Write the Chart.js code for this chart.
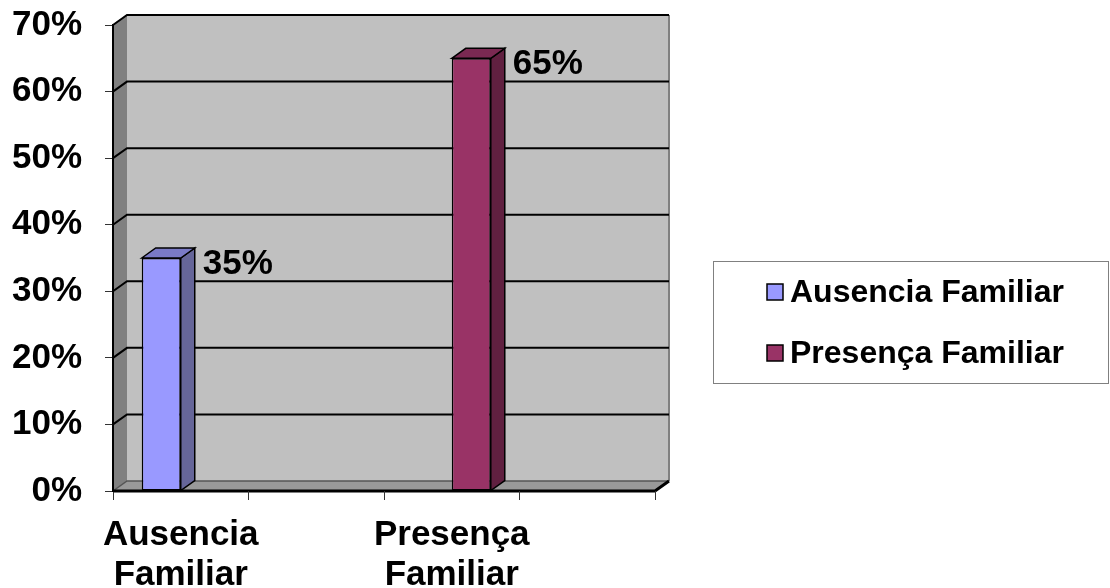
<!DOCTYPE html>
<html>
<head>
<meta charset="utf-8">
<script src="https://cdn.jsdelivr.net/npm/chart.js@4.4.1/dist/chart.umd.min.js"></script>
<style>
html, body { margin: 0; padding: 0; background: #fff; }
#wrap { width: 1110px; height: 588px; }
</style>
</head>
<body>
<div id="wrap"><canvas id="myChart" width="1110" height="588"></canvas></div>
<script>
// datos del grafico
var categorias = [['Ausencia', 'Familiar'], '', ['Presença', 'Familiar'], ''];
var series = ['Ausencia Familiar', 'Presença Familiar'];
var ausencia = [35, null, null, null];
var presenca = [null, null, 65, null];
var yMax = 70;
var yPaso = 10;

var FUENTE = '"Liberation Sans", Arial, sans-serif';
var DX = 14, DY = 10;   // profundidad 3D

var colores = [
    { front: '#9999FF', side: '#666699', top: '#7A7AC6' },
    { front: '#993366', side: '#602040', top: '#7A2952' }
];

function poly(ctx, pts, fill, stroke, lw) {
    ctx.beginPath();
    ctx.moveTo(pts[0][0], pts[0][1]);
    for (var i = 1; i < pts.length; i++) ctx.lineTo(pts[i][0], pts[i][1]);
    ctx.closePath();
    if (fill) { ctx.fillStyle = fill; ctx.fill(); }
    if (stroke) { ctx.strokeStyle = stroke; ctx.lineWidth = lw || 1; ctx.stroke(); }
}

var fondo3d = {
    id: 'fondo3d',
    beforeDraw: function (chart) {
        var ctx = chart.ctx, a = chart.chartArea, ys = chart.scales.y;
        ctx.save();
        // pared del fondo
        ctx.fillStyle = '#C0C0C0';
        ctx.fillRect(a.left + DX, a.top - DY, a.right - a.left, a.bottom - a.top);
        // pared lateral
        poly(ctx, [[a.left, a.top], [a.left + DX, a.top - DY], [a.left + DX, a.bottom - DY], [a.left, a.bottom]], '#808080');
        // piso
        poly(ctx, [[a.left, a.bottom], [a.left + DX, a.bottom - DY], [a.right + DX, a.bottom - DY], [a.right, a.bottom]], '#999999');
        // borde derecho de la pared
        ctx.strokeStyle = '#808080';
        ctx.lineWidth = 2;
        ctx.beginPath();
        ctx.moveTo(a.right + DX, a.top - DY);
        ctx.lineTo(a.right + DX, a.bottom - DY);
        ctx.stroke();
        // borde trasero del piso
        ctx.strokeStyle = '#555555';
        ctx.lineWidth = 1.5;
        ctx.beginPath();
        ctx.moveTo(a.left, a.bottom);
        ctx.lineTo(a.left + DX, a.bottom - DY);
        ctx.lineTo(a.right + DX, a.bottom - DY);
        ctx.stroke();
        // lineas de division
        ctx.strokeStyle = '#000';
        ctx.lineWidth = 2;
        for (var v = yPaso; v <= yMax; v += yPaso) {
            var py = ys.getPixelForValue(v);
            ctx.beginPath();
            ctx.moveTo(a.left, py);
            ctx.lineTo(a.left + DX, py - DY);
            ctx.lineTo(a.right + DX, py - DY);
            ctx.stroke();
        }
        // borde frontal del piso
        ctx.lineWidth = 3;
        ctx.beginPath();
        ctx.moveTo(a.left, a.bottom);
        ctx.lineTo(a.right, a.bottom);
        ctx.lineTo(a.right + DX, a.bottom - DY);
        ctx.stroke();
        ctx.restore();
    },
    afterDatasetsDraw: function (chart) {
        var ctx = chart.ctx;
        ctx.save();
        chart.data.datasets.forEach(function (ds, di) {
            var meta = chart.getDatasetMeta(di);
            meta.data.forEach(function (bar, i) {
                var val = ds.data[i];
                if (val == null) return;
                var l = bar.x - bar.width / 2, r = bar.x + bar.width / 2;
                var t = bar.y, b = bar.base;
                poly(ctx, [[r, t], [r + DX, t - DY], [r + DX, b - DY], [r, b]], colores[di].side, '#000', 1.5);
                poly(ctx, [[l, t], [l + DX, t - DY], [r + DX, t - DY], [r, t]], colores[di].top, '#000', 1.5);
                ctx.fillStyle = '#000';
                ctx.font = 'bold 35px ' + FUENTE;
                ctx.textAlign = 'left';
                ctx.textBaseline = 'middle';
                ctx.fillText(val + '%', r + DX + 8, t + 6);
            });
        });
        ctx.restore();
    },
    afterDraw: function (chart) {
        var ctx = chart.ctx;
        ctx.save();
        ctx.strokeStyle = '#808080';
        ctx.lineWidth = 1;
        ctx.strokeRect(713.5, 261.5, 395, 122);
        ctx.font = 'bold 32px ' + FUENTE;
        ctx.textAlign = 'left';
        ctx.textBaseline = 'middle';
        chart.data.datasets.forEach(function (ds, di) {
            var cy = 292 + di * 61;
            ctx.fillStyle = colores[di].front;
            ctx.fillRect(767, cy - 8, 16, 16);
            ctx.strokeStyle = '#000';
            ctx.lineWidth = 1.5;
            ctx.strokeRect(767, cy - 8, 16, 16);
            ctx.fillStyle = '#000';
            ctx.fillText(ds.label, 790, cy + 1);
        });
        ctx.restore();
    }
};

var ctx = document.getElementById('myChart');
var myBarChart = new Chart(ctx, {
    type: 'bar',
    data: {
        labels: categorias,
        datasets: [{
            label: series[0],
            data: ausencia,
            backgroundColor: colores[0].front,
            borderColor: '#000',
            borderWidth: 1.5,
            borderSkipped: false
        }, {
            label: series[1],
            data: presenca,
            backgroundColor: colores[1].front,
            borderColor: '#000',
            borderWidth: 1.5,
            borderSkipped: false
        }]
    },
    options: {
        responsive: false,
        animation: false,
        devicePixelRatio: 1,
        categoryPercentage: 0.576,
        barPercentage: 1,
        layout: { padding: { left: 0, right: 455, top: 25, bottom: 0 } },
        plugins: {
            legend: { display: false },
            tooltip: { enabled: false }
        },
        scales: {
            x: {
                grid: { offset: true, drawOnChartArea: false, drawTicks: true, tickLength: 9, color: '#333' },
                border: { display: false },
                ticks: {
                    color: '#000',
                    padding: 15,
                    maxRotation: 0,
                    autoSkip: false,
                    font: { family: FUENTE, size: 35, weight: 'bold', lineHeight: 1.143 }
                },
                afterFit: function (scale) {
                    scale.height = 97;
                    scale.paddingLeft = 0;
                    scale.paddingRight = 0;
                }
            },
            y: {
                min: 0,
                max: yMax,
                grid: { drawOnChartArea: false, drawTicks: true, tickLength: 8, color: '#333' },
                border: { display: true, color: '#000', width: 2 },
                ticks: {
                    stepSize: yPaso,
                    color: '#000',
                    padding: 23,
                    font: { family: FUENTE, size: 35, weight: 'bold' },
                    callback: function (value) { return value + '%'; }
                },
                afterFit: function (scale) {
                    scale.width = 113;
                    scale.paddingTop = 0;
                    scale.paddingBottom = 0;
                }
            }
        }
    },
    plugins: [fondo3d]
});
</script>
</body>
</html>
